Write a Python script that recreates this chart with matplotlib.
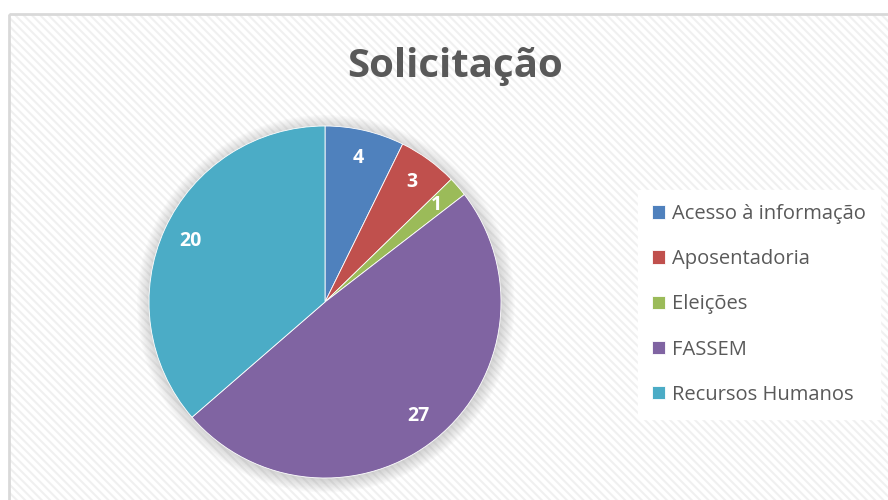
import matplotlib.pyplot as plt
from matplotlib.patches import Rectangle, Circle

# data
categories = ['Acesso à informação', 'Aposentadoria', 'Eleições', 'FASSEM', 'Recursos Humanos']
counts = [4, 3, 1, 27, 20]
colors = ['#4F81BD', '#C0504D', '#9BBB59', '#8064A2', '#4BACC6']

plt.rcParams['font.family'] = ['Open Sans', 'DejaVu Sans']
plt.rcParams['hatch.linewidth'] = 1.5

fig = plt.figure(figsize=(8.88, 5.0), dpi=100)

# chart area: hatched background with grey border
bg = fig.add_axes([0, 0, 1, 1])
bg.set_xlim(0, 888)
bg.set_ylim(500, 0)
bg.axis('off')
bg.add_patch(Rectangle((9, 14), 900, 500, facecolor='white', edgecolor='#f0f0f0',
                       lw=0, hatch='\\\\\\\\', zorder=1))
bg.add_patch(Rectangle((9, 14), 900, 500, facecolor='none', edgecolor='#d9d9d9',
                       lw=2, zorder=2))

fig.text(0.513, 0.866, 'Solicitação', ha='center', va='center', fontsize=29,
         fontweight='bold', color='#595959')

# pie, center ~ (325, 302) px, radius ~176 px
ax = fig.add_axes([149 / 888, 22 / 500, 352 / 888, 352 / 500])

# soft glow shadow
for i in range(10):
    ax.add_patch(Circle((0.005, -0.01), 1.0 + 0.008 * i, facecolor='#808080',
                        edgecolor='none', alpha=0.035, zorder=0, clip_on=False))

wedges, texts = ax.pie(counts, colors=colors, startangle=90, counterclock=False,
                       radius=1.0, labels=[str(c) for c in counts], labeldistance=0.84,
                       wedgeprops=dict(linewidth=0.6, edgecolor='white'),
                       textprops=dict(color='white', fontsize=14, fontweight='bold'))
for t in texts:
    t.set_ha('center')
    t.set_va('center')
    t.set_zorder(5)
ax.set_xlim(-1, 1)
ax.set_ylim(-1, 1)
ax.set_aspect('equal')
ax.axis('off')

leg = fig.legend(wedges, categories, loc='upper left', bbox_to_anchor=(638 / 888, 1 - 190 / 500),
                 frameon=True, facecolor='white', edgecolor='white', framealpha=1,
                 fancybox=False, fontsize=14.5, labelcolor='#595959',
                 handlelength=0.65, handleheight=0.65, handletextpad=0.35,
                 labelspacing=1.25, borderpad=0.7, borderaxespad=0)

fig.savefig('out.png', dpi=100)
